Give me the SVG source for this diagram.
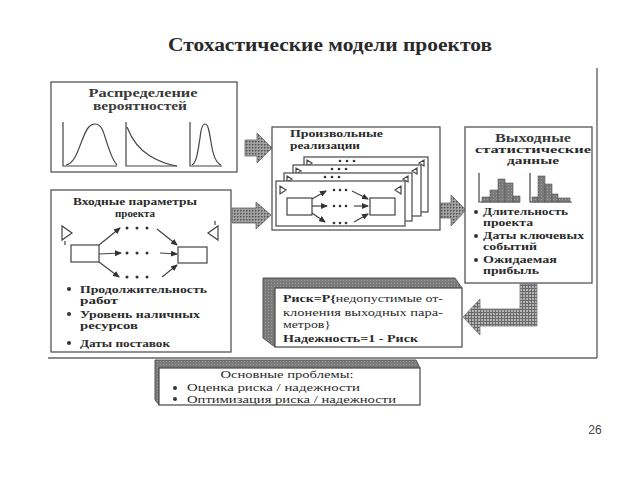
<svg xmlns="http://www.w3.org/2000/svg" width="640" height="480" viewBox="0 0 640 480">
<defs>
<style>
.box{fill:#fff;stroke:#555;stroke-width:1.3}
.ln{fill:none;stroke:#444;stroke-width:1.2}
.t{font-family:"Liberation Serif","DejaVu Serif",serif;fill:#2a2a2a}
.hd{font-weight:bold;font-size:12.5px;fill:#3a3a3a}
.b{font-weight:bold;font-size:10.5px}
.n{font-size:10.5px}
.dot{fill:#333}
</style>
<pattern id="pd" width="3" height="3" patternUnits="userSpaceOnUse">
<rect width="3" height="3" fill="#9a9a9a"/>
<rect x="0" y="0" width="1.5" height="1.5" fill="#555"/>
<rect x="1.5" y="1.5" width="1" height="1" fill="#c8c8c8"/>
</pattern>
<pattern id="pg" width="3" height="3" patternUnits="userSpaceOnUse">
<rect width="3" height="3" fill="#b5b5b5"/>
<path d="M0,0.5H3M0.5,0V3" stroke="#6a6a6a" stroke-width="1"/>
</pattern>
<pattern id="ps" width="3" height="3" patternUnits="userSpaceOnUse">
<rect width="3" height="3" fill="#7a7a7a"/>
<rect x="1" y="1" width="1" height="1" fill="#a0a0a0"/>
</pattern>
<marker id="ah" markerWidth="7" markerHeight="6" refX="6" refY="3" orient="auto" markerUnits="userSpaceOnUse">
<path d="M0,0 L7,3 L0,6 z" fill="#333"/>
</marker>
</defs>
<rect width="640" height="480" fill="#fff"/>

<text class="t" x="330" y="51" text-anchor="middle" font-size="18" font-weight="bold" fill="#111" textLength="324" lengthAdjust="spacingAndGlyphs">Стохастические модели проектов</text>

<!-- outer frame -->
<g id="frame">
<path d="M597,68 V358 M48,358 H597" fill="none" stroke="#666" stroke-width="1.4"/>
</g>

<!-- connectors -->
<g id="connectors">
<path d="M245,140 H257 V133 L272,148 L257,163 V156 H245 Z" fill="url(#pd)" stroke="#666" stroke-width="0.8"/>
<path d="M232,208 H256 V202 L271,215 L256,229 V223 H232 Z" fill="url(#pd)" stroke="#666" stroke-width="0.8"/>
<path d="M440,203 H451 V195 L466,210 L451,226 V218 H440 Z" fill="url(#pd)" stroke="#666" stroke-width="0.8"/>
<path d="M520,284 H537 V326 H480 V335 L463,317 L480,299 V309 H520 Z" fill="url(#pg)" stroke="#777" stroke-width="0.8"/>
</g>

<!-- Box 1 -->
<g id="n-distribution">
<rect class="box" x="51" y="82" width="186" height="90"/>
<text class="t hd" x="143" y="97" text-anchor="middle" textLength="109" lengthAdjust="spacingAndGlyphs">Распределение</text>
<text class="t hd" x="140" y="110" text-anchor="middle" textLength="94" lengthAdjust="spacingAndGlyphs">вероятностей</text>
<path class="ln" d="M63,122 V166 H117 M126,122 V166 H177 M190,122 V166 H222"/>
<path class="ln" d="M66,165 C75,163 78,150 83,138 C87,128 90,124 95,124 C101,124 103,130 106,140 C110,152 112,160 117,165"/>
<path class="ln" d="M127,127 C132,140 140,150 150,156 C160,162 170,165 177,166"/>
<path class="ln" d="M192,165 C197,162 198,150 200,138 C201,128 203,124 205,124 C208,124 209,130 211,142 C213,156 216,163 221,165"/>
</g>

<!-- Box 2 -->
<g id="n-input">
<rect class="box" x="51" y="190" width="180" height="162"/>
<text class="t n" font-weight="bold" fill="#3a3a3a" x="135" y="205" text-anchor="middle" textLength="124" lengthAdjust="spacingAndGlyphs">Входные параметры</text>
<text class="t n" font-weight="bold" fill="#3a3a3a" x="135" y="217" text-anchor="middle" textLength="40" lengthAdjust="spacingAndGlyphs">проекта</text>
<path class="ln" d="M62,226 V240 L72,233 Z M65,241 V245"/>
<path class="ln" d="M218,226 V240 L208,233 Z M215,221 V225"/>
<rect class="ln" x="71" y="245" width="28" height="17"/>
<rect class="ln" x="178" y="247" width="29" height="16"/>
<g class="ln" marker-end="url(#ah)">
<path d="M99,245 L120,228"/>
<path d="M99,254 L121,253"/>
<path d="M99,262 L119,277"/>
<path d="M157,229 L177,245"/>
<path d="M160,253 L177,254"/>
<path d="M162,277 L177,265"/>
</g>
<g class="dot">
<circle cx="127" cy="228" r="1.5"/><circle cx="137" cy="228" r="1.5"/><circle cx="147" cy="228" r="1.5"/>
<circle cx="127" cy="253" r="1.5"/><circle cx="137" cy="253" r="1.5"/><circle cx="147" cy="253" r="1.5"/>
<circle cx="127" cy="277" r="1.5"/><circle cx="137" cy="277" r="1.5"/><circle cx="147" cy="277" r="1.5"/>
<circle cx="69" cy="289" r="2"/><circle cx="69" cy="314" r="2"/><circle cx="69" cy="343" r="2"/>
</g>
<text class="t b" x="80" y="293" textLength="127" lengthAdjust="spacingAndGlyphs">Продолжительность</text>
<text class="t b" x="80" y="304" textLength="38" lengthAdjust="spacingAndGlyphs">работ</text>
<text class="t b" x="80" y="318" textLength="120" lengthAdjust="spacingAndGlyphs">Уровень наличных</text>
<text class="t b" x="80" y="329" textLength="58" lengthAdjust="spacingAndGlyphs">ресурсов</text>
<text class="t b" x="80" y="347" textLength="90" lengthAdjust="spacingAndGlyphs">Даты поставок</text>
</g>

<!-- Box 3 -->
<g id="n-realizations">
<rect class="box" x="272" y="127" width="168" height="103"/>
<text class="t n" font-weight="bold" fill="#3a3a3a" x="290" y="137" textLength="93" lengthAdjust="spacingAndGlyphs">Произвольные</text>
<text class="t n" font-weight="bold" fill="#3a3a3a" x="290" y="149" textLength="70" lengthAdjust="spacingAndGlyphs">реализации</text>
<g id="card4">
<rect class="box" x="304" y="157" width="124" height="55"/>
<path class="ln" d="M307,160 V166 L312,163 Z M424,160 V166 L419,163 Z"/>
<circle class="dot" cx="340" cy="161" r="1.3"/><circle class="dot" cx="347" cy="161" r="1.3"/><circle class="dot" cx="354" cy="161" r="1.3"/>
</g>
<g id="card3">
<rect class="box" x="293" y="165" width="128" height="51"/>
<path class="ln" d="M296,168 V174 L301,171 Z M417,168 V174 L412,171 Z"/>
<circle class="dot" cx="332" cy="169" r="1.3"/><circle class="dot" cx="339" cy="169" r="1.3"/><circle class="dot" cx="346" cy="169" r="1.3"/>
</g>
<g id="card2">
<rect class="box" x="284" y="173" width="128" height="48"/>
<path class="ln" d="M287,176 V182 L292,179 Z M408,176 V182 L403,179 Z"/>
<circle class="dot" cx="325" cy="177" r="1.3"/><circle class="dot" cx="332" cy="177" r="1.3"/><circle class="dot" cx="339" cy="177" r="1.3"/>
</g>
<g id="card1">
<rect class="box" x="276" y="181" width="129" height="45"/>
<path class="ln" d="M280,186 V194 L286,190 Z M401,186 V194 L395,190 Z"/>
<rect class="ln" x="287" y="198" width="25" height="17"/>
<rect class="ln" x="370" y="198" width="25" height="17"/>
<g class="ln" marker-end="url(#ah)" stroke-width="1">
<path d="M312,199 L326,191"/>
<path d="M312,206 L327,206"/>
<path d="M312,213 L325,222"/>
<path d="M352,191 L368,199"/>
<path d="M354,206 L368,206"/>
<path d="M354,222 L368,214"/>
</g>
<g class="dot">
<circle cx="334" cy="190" r="1.3"/><circle cx="340" cy="190" r="1.3"/><circle cx="346" cy="190" r="1.3"/>
<circle cx="334" cy="206" r="1.3"/><circle cx="340" cy="206" r="1.3"/><circle cx="346" cy="206" r="1.3"/>
<circle cx="334" cy="223" r="1.3"/><circle cx="340" cy="223" r="1.3"/><circle cx="346" cy="223" r="1.3"/>
</g>
</g>
</g>

<!-- Box 4 -->
<g id="n-output">
<rect class="box" x="465" y="127" width="127" height="156"/>
<text class="t hd" x="533" y="142" text-anchor="middle" textLength="76" lengthAdjust="spacingAndGlyphs">Выходные</text>
<text class="t n" font-weight="bold" fill="#3a3a3a" x="533" y="153" text-anchor="middle" textLength="116" lengthAdjust="spacingAndGlyphs">статистические</text>
<text class="t n" font-weight="bold" fill="#3a3a3a" x="533" y="164" text-anchor="middle" textLength="52" lengthAdjust="spacingAndGlyphs">данные</text>
<path class="ln" d="M479,173 V202 H520 M530,173 V202 H572"/>
<g fill="url(#ps)" stroke="#555" stroke-width="0.6">
<rect x="482" y="197" width="8" height="5"/>
<rect x="490" y="190" width="8" height="12"/>
<rect x="498" y="179" width="7" height="23"/>
<rect x="505" y="183" width="8" height="19"/>
<rect x="513" y="196" width="7" height="6"/>
<rect x="532" y="197" width="6" height="5"/>
<rect x="538" y="176" width="7" height="26"/>
<rect x="545" y="184" width="7" height="18"/>
<rect x="552" y="194" width="6" height="8"/>
<rect x="558" y="198" width="12" height="4"/>
</g>
<g class="dot"><circle cx="476" cy="212" r="2"/><circle cx="476" cy="236" r="2"/><circle cx="476" cy="260" r="2"/></g>
<text class="t b" x="483" y="215" textLength="85" lengthAdjust="spacingAndGlyphs">Длительность</text>
<text class="t b" x="483" y="226" textLength="50" lengthAdjust="spacingAndGlyphs">проекта</text>
<text class="t b" x="483" y="239" textLength="101" lengthAdjust="spacingAndGlyphs">Даты ключевых</text>
<text class="t b" x="483" y="250" textLength="54" lengthAdjust="spacingAndGlyphs">событий</text>
<text class="t b" x="483" y="263" textLength="74" lengthAdjust="spacingAndGlyphs">Ожидаемая</text>
<text class="t b" x="483" y="274" textLength="56" lengthAdjust="spacingAndGlyphs">прибыль</text>
</g>

<!-- Risk box -->
<g id="n-risk">
<path d="M263,278 H455 L462,288 H275 V347 L263,338 Z" fill="url(#ps)" stroke="#555" stroke-width="1"/>
<rect class="box" x="275" y="288" width="187" height="59"/>
<text class="t n" x="283" y="302" textLength="160" lengthAdjust="spacingAndGlyphs"><tspan font-weight="bold">Риск=Р{</tspan>недопустимые от-</text>
<text class="t n" x="283" y="316" textLength="160" lengthAdjust="spacingAndGlyphs">клонения выходных пара-</text>
<text class="t n" x="283" y="328" textLength="48" lengthAdjust="spacingAndGlyphs">метров}</text>
<text class="t n" x="283" y="342" font-weight="bold" textLength="135" lengthAdjust="spacingAndGlyphs">Надежность=1 - Риск</text>
</g>

<!-- Problems box -->
<g id="n-problems">
<path d="M155,360 H416 L420,368 H159 V405 L155,400 Z" fill="url(#ps)" stroke="#555" stroke-width="1"/>
<rect class="box" x="159" y="368" width="261" height="37"/>
<text class="t n" x="287" y="378" text-anchor="middle" textLength="133" lengthAdjust="spacingAndGlyphs">Основные проблемы:</text>
<g class="dot"><circle cx="175" cy="388" r="2"/><circle cx="175" cy="399" r="2"/></g>
<text class="t n" x="187" y="391" textLength="173" lengthAdjust="spacingAndGlyphs">Оценка риска / надежности</text>
<text class="t n" x="187" y="403" textLength="209" lengthAdjust="spacingAndGlyphs">Оптимизация риска / надежности</text>
</g>

<text x="595" y="434" text-anchor="middle" font-family="'Liberation Sans',Arial,sans-serif" font-size="12" fill="#444">26</text>
</svg>
